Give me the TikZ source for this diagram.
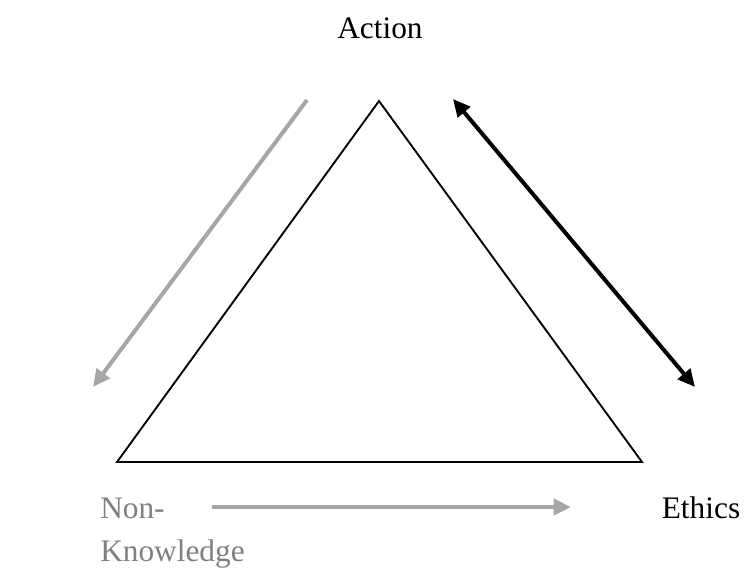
\documentclass[tikz,border=0pt]{standalone}
\usepackage{fontspec}
\setmainfont{Liberation Serif}
\usepackage{xcolor}
\usetikzlibrary{arrows.meta}
\definecolor{arrowgray}{gray}{0.65}
\definecolor{textgray}{gray}{0.5}

\begin{document}
\begin{tikzpicture}[x=0.75pt, y=-0.75pt,
    corner/.style={font=\fontsize{23.5}{32}\selectfont, inner sep=0pt},
    grayarrow/.style={draw=arrowgray, line width=3pt, -{Triangle[length=13pt, width=12pt]}},
    blackarrow/.style={draw=black, line width=3pt, {Triangle[length=13pt, width=12pt]}-{Triangle[length=13pt, width=12pt]}}]
  \useasboundingbox (0,0) rectangle (748,569);

  % triangle
  \coordinate (top) at (379,101);
  \coordinate (left) at (117,462);
  \coordinate (right) at (642,462);
  \draw[line width=1.4pt] (top) -- (left) -- (right) -- cycle;

  % labels
  \node[corner, anchor=base] (action) at (380,38) {Action};
  \node[corner, anchor=base] (ethics) at (701,518) {Ethics};
  \node[corner, anchor=base west, align=left, text=textgray] (nonknow) at (100,561) {Non-\\Knowledge};

  % arrows round the triangle
  \coordinate (grayA) at (307,100);
  \coordinate (grayB) at (93,387);
  \draw[grayarrow] (grayA) -- (grayB);

  \coordinate (grayC) at (212,507);
  \coordinate (grayD) at (571,507);
  \draw[grayarrow] (grayC) -- (grayD);

  \coordinate (blackA) at (453,99);
  \coordinate (blackB) at (695,387);
  \draw[blackarrow] (blackA) -- (blackB);
\end{tikzpicture}
\end{document}
